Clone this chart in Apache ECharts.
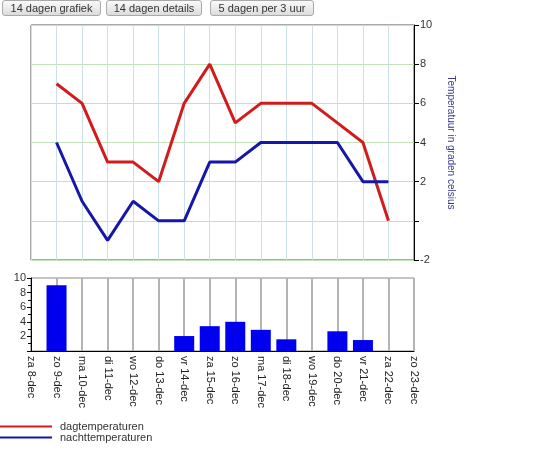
<!DOCTYPE html>
<html>
<head>
<meta charset="utf-8">
<script src="https://cdn.jsdelivr.net/npm/echarts@6/dist/echarts.min.js"></script>
<style>
  html, body { margin: 0; padding: 0; background: #fff; }
  #wrap { position: relative; width: 553px; height: 456px; }
  #chart { position: absolute; left: 0; top: 0; width: 553px; height: 456px; }
  .btn {
    position: absolute; top: 0; height: 16px; box-sizing: border-box;
    border: 1px solid #a9a9a9; border-radius: 3px;
    background: linear-gradient(#fafafa, #dcdcdc);
    font: 11px "Liberation Sans", Arial, sans-serif; color: #333;
    text-align: center; line-height: 14px; z-index: 2;
  }
</style>
</head>
<body>
<div id="wrap">
  <div id="chart"></div>
  <div class="btn" style="left:2px;width:99px">14 dagen grafiek</div>
  <div class="btn" style="left:106px;width:96px">14 dagen details</div>
  <div class="btn" style="left:210px;width:104px">5 dagen per 3 uur</div>
</div>
<script>
// dagen
var dagen = ['za 8-dec', 'zo 9-dec', 'ma 10-dec', 'di 11-dec', 'wo 12-dec', 'do 13-dec', 'vr 14-dec',
  'za 15-dec', 'zo 16-dec', 'ma 17-dec', 'di 18-dec', 'wo 19-dec', 'do 20-dec', 'vr 21-dec',
  'za 22-dec', 'zo 23-dec'];
// temperaturen (graden celsius)
var dagTemp = [null, 7, 6, 3, 3, 2, 6, 8, 5, 6, 6, 6, 5, 4, 0, null];
var nachtTemp = [null, 4, 1, -1, 1, 0, 0, 3, 3, 4, 4, 4, 4, 2, 2, null];
// neerslag (geen balk = droog)
var neerslag = [null, 9, null, null, null, null, 2.05, 3.4, 4.0, 2.9, 1.6, null, 2.7, 1.5, null, null];

var myChart = echarts.init(document.getElementById('chart'));
var font = '"Liberation Sans", Arial, sans-serif';

option = {
    animation: false,
    textStyle: { fontFamily: font },
    legend: {
        data: ['dagtemperaturen', 'nachttemperaturen'],
        orient: 'vertical',
        left: 0,
        top: 421,
        padding: 0,
        icon: 'rect',
        itemWidth: 52,
        itemHeight: 2,
        itemGap: 0,
        textStyle: { fontSize: 11, color: '#333', lineHeight: 11, padding: [0, 0, 0, 3] }
    },
    grid: [
        // temperatuur
        { left: 31, top: 25, width: 383, height: 235, show: true, borderColor: '#555', borderWidth: 1 },
        // neerslag
        { left: 31, top: 278, width: 383, height: 73, show: true, borderColor: '#888', borderWidth: 1 }
    ],
    xAxis: [{
        type: 'category',
        gridIndex: 0,
        data: dagen,
        boundaryGap: false,
        axisLine: { show: false },
        axisTick: { show: false },
        axisLabel: { show: false, interval: 0 },
        splitLine: { show: true, interval: 0, lineStyle: { color: '#cde0e8', width: 1 } }
    }, {
        type: 'category',
        gridIndex: 1,
        data: dagen,
        boundaryGap: false,
        axisLine: { lineStyle: { color: '#000', width: 1 } },
        axisTick: { show: false },
        axisLabel: { rotate: -90, fontSize: 11, color: '#222', margin: 5, interval: 0 },
        splitLine: { show: true, interval: 0, lineStyle: { color: '#b4b4b4', width: 2 } }
    }],
    yAxis: [{
        type: 'value',
        gridIndex: 0,
        position: 'right',
        min: -2,
        max: 10,
        interval: 2,
        name: 'Temperatuur in graden celsius',
        nameLocation: 'middle',
        nameRotate: -90,
        nameGap: 32,
        nameTextStyle: { color: '#3a3a8c', fontSize: 10 },
        axisLine: { show: true, lineStyle: { color: '#000' } },
        axisTick: { show: true, length: 5, lineStyle: { color: '#000' } },
        axisLabel: {
            fontSize: 11, color: '#333', margin: 6,
            formatter: function (v) { return v === 0 ? '' : v; }
        },
        splitLine: { show: true, lineStyle: { color: '#c2e3b8' } }
    }, {
        type: 'value',
        gridIndex: 1,
        position: 'left',
        min: 0,
        max: 10,
        interval: 2,
        axisLine: { show: true, lineStyle: { color: '#000' } },
        axisTick: { show: true, length: 4, lineStyle: { color: '#000' } },
        minorTick: { show: true, splitNumber: 2, length: 3, lineStyle: { color: '#000' } },
        axisLabel: {
            fontSize: 11, color: '#333', margin: 5,
            formatter: function (v) { return v === 0 ? '' : v; }
        },
        splitLine: { show: false }
    }],
    series: [{
        name: 'dagtemperaturen',
        type: 'line',
        xAxisIndex: 0,
        yAxisIndex: 0,
        data: dagTemp,
        symbol: 'none',
        color: '#d01c1c',
        lineStyle: { width: 3, color: '#d01c1c' }
    }, {
        name: 'nachttemperaturen',
        type: 'line',
        xAxisIndex: 0,
        yAxisIndex: 0,
        data: nachtTemp,
        symbol: 'none',
        color: '#1616a8',
        lineStyle: { width: 3, color: '#1616a8' }
    }, {
        name: 'neerslag',
        type: 'bar',
        xAxisIndex: 1,
        yAxisIndex: 1,
        data: neerslag,
        barWidth: 20,
        itemStyle: { color: '#0000ee' }
    }]
};
myChart.setOption(option);
</script>
</body>
</html>
